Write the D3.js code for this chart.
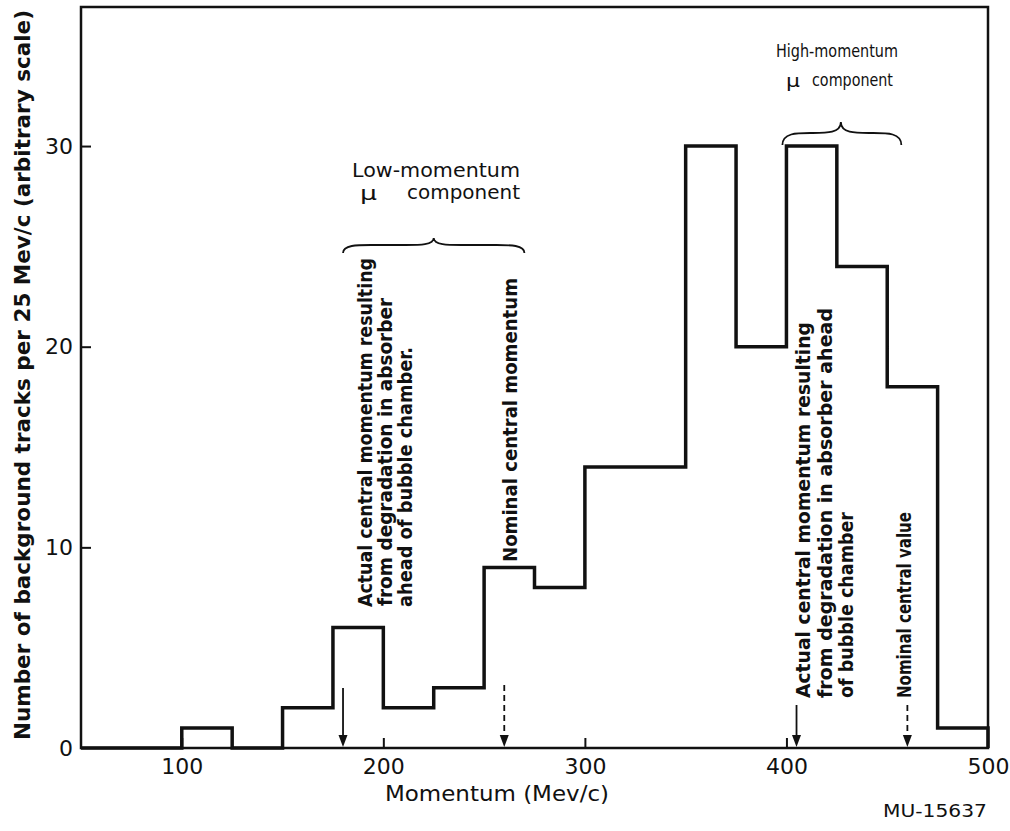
<!DOCTYPE html>
<html>
<head>
<meta charset="utf-8">
<script src="https://cdn.jsdelivr.net/npm/d3@7"></script>
<style>
  body { margin: 0; background: #fff; }
  svg { display: block; }
  .axis text { font-family: "DejaVu Sans", sans-serif; font-size: 22px; fill: #111; }
  .axis line { stroke: #111; stroke-width: 2; }
  .axis .domain { display: none; }
  .label { font-family: "DejaVu Sans", sans-serif; fill: #111; }
  .note { font-family: "Liberation Sans Narrow", "DejaVu Sans Condensed", sans-serif; font-weight: bold; font-size: 20px; fill: #111; }
</style>
</head>
<body>
<div id="chart"></div>
<script>
// histogram bins, 25 Mev/c wide
const binStarts = [50, 75, 100, 125, 150, 175, 200, 225, 250, 275, 300, 325, 350, 375, 400, 425, 450, 475];
const counts = [0, 0, 1, 0, 2, 6, 2, 3, 9, 8, 14, 14, 30, 20, 30, 24, 18, 1];
const binWidth = 25;

const xTicks = [100, 200, 300, 400, 500];
const yTicks = [0, 10, 20, 30];

// momentum markers along the axis
const markerMomenta = [180, 260, 405, 460];
const markerDashed = [false, true, false, true];

// braces over the two mu components [from, tip, to]
const lowBrace = [180, 225, 270];
const highBrace = [398, 427, 457];

const width = 1010;
const height = 831;
const marginTop = 7;
const marginLeft = 81;
const plotRight = 988;
const plotBottom = 748;

const svg = d3.select("#chart").append("svg")
  .attr("width", width)
  .attr("height", height)
  .attr("viewBox", [0, 0, width, height]);

const x = d3.scaleLinear().domain([50, 500]).range([marginLeft, plotRight]);
const y = d3.scaleLinear().domain([0, 36.93]).range([plotBottom, marginTop]);

// axes (ticks point inward)
svg.append("g")
  .attr("class", "axis")
  .attr("transform", `translate(0,${plotBottom})`)
  .call(d3.axisBottom(x).tickValues(xTicks).tickSize(-10).tickPadding(10).tickFormat(d3.format("d")))
  .call(g => g.selectAll(".tick").filter(d => d === 500).select("line").remove());

svg.append("g")
  .attr("class", "axis")
  .attr("transform", `translate(${marginLeft},0)`)
  .call(d3.axisLeft(y).tickValues(yTicks).tickSize(-10).tickPadding(8))
  .call(g => g.selectAll(".tick").filter(d => d === 0).select("line").remove());

// frame
svg.append("rect")
  .attr("x", marginLeft)
  .attr("y", marginTop)
  .attr("width", plotRight - marginLeft)
  .attr("height", plotBottom - marginTop)
  .attr("fill", "none")
  .attr("stroke", "#111")
  .attr("stroke-width", 2.5);

// histogram outline
const stepPoints = binStarts.map((b, i) => [b, counts[i]]);
stepPoints.push([binStarts[binStarts.length - 1] + binWidth, counts[counts.length - 1]]);
stepPoints.push([binStarts[binStarts.length - 1] + binWidth, 0]);

const stepLine = d3.line()
  .x(d => x(d[0]))
  .y(d => y(d[1]))
  .curve(d3.curveStepAfter);

svg.append("path")
  .datum(stepPoints)
  .attr("d", stepLine)
  .attr("fill", "none")
  .attr("stroke", "#111")
  .attr("stroke-width", 3.5)
  .attr("stroke-linejoin", "miter");

// arrows down to the axis
const arrowTops = [688, 685, 705, 705];
markerMomenta.forEach((m, i) => {
  const ax = x(m);
  svg.append("line")
    .attr("x1", ax).attr("x2", ax)
    .attr("y1", arrowTops[i]).attr("y2", plotBottom - 10)
    .attr("stroke", "#111")
    .attr("stroke-width", 1.8)
    .attr("stroke-dasharray", markerDashed[i] ? "6,4" : null);
  svg.append("path")
    .attr("d", `M${ax - 4.5},${plotBottom - 13} L${ax + 4.5},${plotBottom - 13} L${ax},${plotBottom - 1} Z`)
    .attr("fill", "#111");
});

// curly braces
function brace([a, m, b], yEnd, yMid, yTip) {
  const x0 = x(a), xm = x(m), x1 = x(b);
  const q = 14;
  return `M${x0},${yEnd} C${x0},${yMid} ${x0 + q},${yMid} ${x0 + 2 * q},${yMid}` +
    ` L${xm - 2 * q},${yMid} C${xm - q},${yMid} ${xm},${yMid} ${xm},${yTip}` +
    ` C${xm},${yMid} ${xm + q},${yMid} ${xm + 2 * q},${yMid}` +
    ` L${x1 - 2 * q},${yMid} C${x1 - q},${yMid} ${x1},${yMid} ${x1},${yEnd}`;
}
svg.append("path").attr("d", brace(lowBrace, 253, 245, 238))
  .attr("fill", "none").attr("stroke", "#111").attr("stroke-width", 1.8);
svg.append("path").attr("d", brace(highBrace, 145, 133, 122))
  .attr("fill", "none").attr("stroke", "#111").attr("stroke-width", 1.8);

// axis titles
svg.append("text")
  .attr("class", "label")
  .attr("transform", "translate(30,740) rotate(-90)")
  .attr("font-family", "'DejaVu Sans Condensed', 'DejaVu Sans', sans-serif")
  .attr("font-size", 21)
  .attr("font-weight", "bold")
  .attr("textLength", 730)
  .attr("lengthAdjust", "spacingAndGlyphs")
  .text("Number of background tracks per 25 Mev/c  (arbitrary scale)");

svg.append("text")
  .attr("class", "label")
  .attr("x", 385).attr("y", 801)
  .attr("font-size", 21)
  .attr("textLength", 224)
  .attr("lengthAdjust", "spacingAndGlyphs")
  .text("Momentum (Mev/c)");

svg.append("text")
  .attr("class", "label")
  .attr("x", 883).attr("y", 817)
  .attr("font-size", 17)
  .attr("textLength", 104)
  .attr("lengthAdjust", "spacingAndGlyphs")
  .text("MU-15637");

// component headings
const headings = [
  { text: "Low-momentum", x: 352, y: 177, len: 168, size: 19 },
  { text: "\u03bc", x: 360, y: 200, len: 17, size: 19 },
  { text: "component", x: 407, y: 199, len: 113, size: 19 },
  { text: "High-momentum", x: 776, y: 57, len: 122, size: 17 },
  { text: "\u03bc", x: 786, y: 87, len: 14, size: 17 },
  { text: "component", x: 812, y: 86, len: 81, size: 17 }
];
svg.selectAll(".heading")
  .data(headings)
  .join("text")
  .attr("class", "label heading")
  .attr("x", d => d.x).attr("y", d => d.y)
  .attr("font-size", d => d.size)
  .attr("textLength", d => d.len)
  .attr("lengthAdjust", "spacingAndGlyphs")
  .text(d => d.text);

// vertical notes, reading upward
const notes = [
  { text: "Actual central momentum resulting", bx: 372, by: 607, len: 349 },
  { text: "from degradation in absorber", bx: 392, by: 606, len: 308 },
  { text: "ahead of bubble chamber.", bx: 412, by: 607, len: 260 },
  { text: "Nominal central momentum", bx: 517, by: 562, len: 284 },
  { text: "Actual central momentum resulting", bx: 810, by: 698, len: 376 },
  { text: "from degradation in absorber ahead", bx: 832, by: 698, len: 390 },
  { text: "of bubble chamber", bx: 853, by: 698, len: 186 },
  { text: "Nominal central value", bx: 911, by: 698, len: 186 }
];
svg.selectAll(".note")
  .data(notes)
  .join("text")
  .attr("class", "note")
  .attr("transform", d => `translate(${d.bx},${d.by}) rotate(-90)`)
  .attr("textLength", d => d.len)
  .attr("lengthAdjust", "spacingAndGlyphs")
  .text(d => d.text);
</script>
</body>
</html>
